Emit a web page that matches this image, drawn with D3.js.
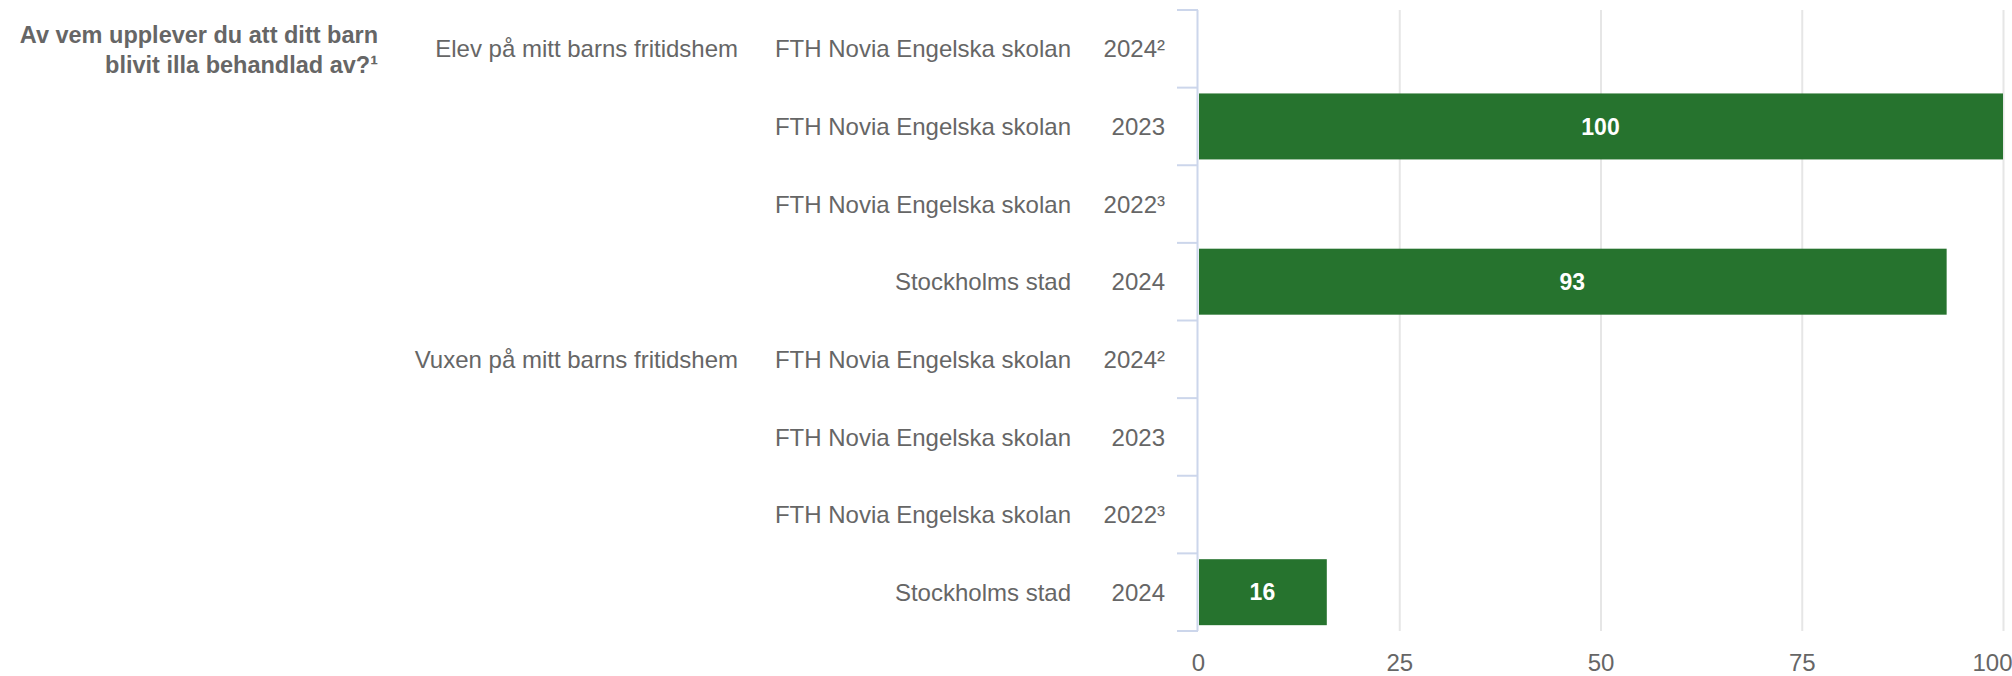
<!DOCTYPE html>
<html>
<head>
<meta charset="utf-8">
<script src="https://cdn.jsdelivr.net/npm/d3@7"></script>
<style>
  html, body { margin: 0; padding: 0; background: #ffffff; }
  svg { display: block; font-family: "Liberation Sans", Arial, sans-serif; }
</style>
</head>
<body>
<svg id="chart" width="2012" height="676"></svg>
<script>
// ---- data ----
const questionLines = ["Av vem upplever du att ditt barn", "blivit illa behandlad av?¹"];
const groups = ["Elev på mitt barns fritidshem", "Elev på mitt barns fritidshem", "Elev på mitt barns fritidshem", "Elev på mitt barns fritidshem",
                "Vuxen på mitt barns fritidshem", "Vuxen på mitt barns fritidshem", "Vuxen på mitt barns fritidshem", "Vuxen på mitt barns fritidshem"];
const units = ["FTH Novia Engelska skolan", "FTH Novia Engelska skolan", "FTH Novia Engelska skolan", "Stockholms stad",
               "FTH Novia Engelska skolan", "FTH Novia Engelska skolan", "FTH Novia Engelska skolan", "Stockholms stad"];
const years = ["2024²", "2023", "2022³", "2024", "2024²", "2023", "2022³", "2024"];
const values = [null, 100, null, 93, null, null, null, 16];
const xTicks = [0, 25, 50, 75, 100];

// ---- layout ----
const svg = d3.select("#chart");
const plotLeft = 1198, plotRight = 2003, plotTop = 10, plotBottom = 631;
const labelColor = "#666666";
const axisColor = "#ccd6eb";
const gridColor = "#e6e6e6";
const barColor = "#26732e";

const idx = d3.range(values.length);
const x = d3.scaleLinear().domain([0, 100]).range([plotLeft, plotRight]);
const y = d3.scaleBand().domain(idx).range([plotTop, plotBottom]).paddingInner(0.15).paddingOuter(0.075);
const yEdges = d3.scaleLinear().domain([0, values.length]).range([plotTop, plotBottom]);

// grid lines
svg.append("g")
  .selectAll("line")
  .data(xTicks.filter(t => t > 0))
  .join("line")
  .attr("x1", d => x(d) + 0.5).attr("x2", d => x(d) + 0.5)
  .attr("y1", plotTop).attr("y2", plotBottom)
  .attr("stroke", gridColor).attr("stroke-width", 2);

// x axis labels (no axis line)
const xAxis = d3.axisBottom(x).tickValues(xTicks).tickSize(0).tickPadding(0);
const gx = svg.append("g").attr("transform", `translate(0,${plotBottom})`).call(xAxis);
gx.select(".domain").remove();
gx.selectAll("text")
  .attr("font-size", 24).attr("fill", labelColor)
  .attr("font-family", "Liberation Sans, Arial, sans-serif")
  .attr("dy", null).attr("y", 40);
gx.selectAll(".tick").filter(d => d === 100).select("text").attr("text-anchor", "end").attr("x", 9);

// y axis line and category tick stubs
svg.append("line")
  .attr("x1", plotLeft - 0.5).attr("x2", plotLeft - 0.5)
  .attr("y1", plotTop).attr("y2", plotBottom)
  .attr("stroke", axisColor).attr("stroke-width", 2);
svg.append("g")
  .selectAll("line")
  .data(d3.range(values.length + 1))
  .join("line")
  .attr("x1", plotLeft - 21).attr("x2", plotLeft)
  .attr("y1", d => yEdges(d)).attr("y2", d => yEdges(d))
  .attr("stroke", axisColor).attr("stroke-width", 2);

// bars
const barData = idx.filter(i => values[i] != null);
svg.append("g")
  .selectAll("rect")
  .data(barData)
  .join("rect")
  .attr("x", x(0) + 1)
  .attr("y", i => y(i))
  .attr("width", i => x(values[i]) - x(0) - 1)
  .attr("height", y.bandwidth())
  .attr("fill", barColor);

// data labels
svg.append("g")
  .selectAll("text")
  .data(barData)
  .join("text")
  .attr("x", i => (x(0) + x(values[i])) / 2)
  .attr("y", i => y(i) + y.bandwidth() / 2)
  .attr("dy", "0.36em")
  .attr("text-anchor", "middle")
  .attr("font-size", 23).attr("font-weight", "bold").attr("fill", "#ffffff")
  .text(i => values[i]);

// category labels: year column
const mid = i => (yEdges(i) + yEdges(i + 1)) / 2;
svg.append("g")
  .selectAll("text")
  .data(idx)
  .join("text")
  .attr("x", 1165).attr("y", mid).attr("dy", "0.36em")
  .attr("text-anchor", "end").attr("font-size", 24).attr("fill", labelColor)
  .text(i => years[i]);

// unit column
svg.append("g")
  .selectAll("text")
  .data(idx)
  .join("text")
  .attr("x", 1071).attr("y", mid).attr("dy", "0.36em")
  .attr("text-anchor", "end").attr("font-size", 24).attr("fill", labelColor)
  .text(i => units[i]);

// group column (shown once per group)
svg.append("g")
  .selectAll("text")
  .data(idx.filter(i => i === 0 || groups[i] !== groups[i - 1]))
  .join("text")
  .attr("x", 738).attr("y", mid).attr("dy", "0.36em")
  .attr("text-anchor", "end").attr("font-size", 24).attr("fill", labelColor)
  .text(i => groups[i]);

// question title
svg.append("g")
  .selectAll("text")
  .data(questionLines)
  .join("text")
  .attr("x", 378).attr("y", (d, i) => 35 + i * 30).attr("dy", "0.36em")
  .attr("text-anchor", "end").attr("font-size", 23.5).attr("font-weight", "bold").attr("fill", labelColor)
  .text(d => d);
</script>
</body>
</html>
